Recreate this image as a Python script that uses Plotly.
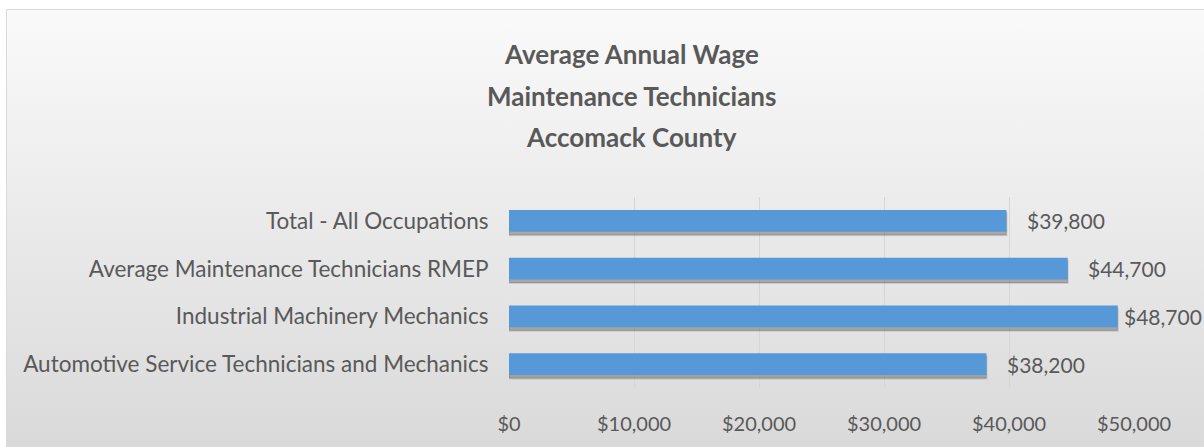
import base64
import plotly.graph_objects as go

categories = [
    "Automotive Service Technicians and Mechanics",
    "Industrial Machinery Mechanics",
    "Average Maintenance Technicians RMEP",
    "Total - All Occupations",
]
wages = [38200, 48700, 44700, 39800]
tick_vals = [0, 10000, 20000, 30000, 40000, 50000]
tick_text = ["$0", "$10,000", "$20,000", "$30,000", "$40,000", "$50,000"]
title_lines = ["Average Annual Wage", "Maintenance Technicians", "Accomack County"]

W, H = 1204, 447
L, R, T, B = 509, 70, 197, 56
pw, ph = W - L - R, H - T - B

FONT = "Lato, 'Open Sans', sans-serif"
GREY = "#595959"
BAR_W = 0.46

svg = (
    '<svg xmlns="http://www.w3.org/2000/svg" width="100" height="100" preserveAspectRatio="none">'
    '<defs><linearGradient id="g" x1="0" y1="0" x2="0" y2="1">'
    '<stop offset="0" stop-color="#fafafa"/><stop offset="1" stop-color="#d9d9d9"/>'
    '</linearGradient></defs>'
    '<rect x="0" y="0" width="100" height="100" fill="url(#g)"/></svg>'
)
src = "data:image/svg+xml;base64," + base64.b64encode(svg.encode()).decode()

fig = go.Figure()
# soft drop shadow under each bar
fig.add_trace(go.Bar(
    y=categories, x=wages, orientation="h",
    width=BAR_W, offset=-BAR_W / 2 - 0.07,
    marker=dict(color="rgba(50,50,50,0.35)", line=dict(width=2, color="rgba(50,50,50,0.15)")),
    hoverinfo="skip",
))
fig.add_trace(go.Bar(
    y=categories, x=wages, orientation="h",
    width=BAR_W, offset=-BAR_W / 2,
    marker=dict(color="#5799d8", line=dict(width=0)),
    hoverinfo="skip",
))

def px_to_paper_x(px):
    return (px - L) / pw

def px_to_paper_y(py):
    return 1 - (py - T) / ph

annotations = []
for cat, v in zip(categories, wages):
    end_px = L + v / 50000 * pw
    shift = 18 if end_px + 18 + 82 < W - 2 else 4
    annotations.append(dict(
        x=v, y=cat, xref="x", yref="y", text="${:,}".format(v),
        showarrow=False, xanchor="left", yanchor="middle", xshift=shift,
        font=dict(family=FONT, size=21, color=GREY),
    ))

for i, line in enumerate(title_lines):
    annotations.append(dict(
        x=px_to_paper_x(631), y=px_to_paper_y(52 + 42 * i), xref="paper", yref="paper",
        text="<b>" + line + "</b>", showarrow=False, xanchor="center", yanchor="middle",
        font=dict(family=FONT, size=26, color=GREY),
    ))

fig.update_layout(
    width=W, height=H,
    margin=dict(l=L, r=R, t=T, b=B, pad=0),
    paper_bgcolor="white",
    plot_bgcolor="rgba(0,0,0,0)",
    barmode="overlay",
    showlegend=False,
    annotations=annotations,
    images=[dict(
        source=src, xref="paper", yref="paper",
        x=px_to_paper_x(6), y=px_to_paper_y(6),
        sizex=(W + 10 - 6) / pw, sizey=(H + 10 - 6) / ph,
        xanchor="left", yanchor="top", sizing="stretch", layer="below",
    )],
    shapes=[dict(
        type="rect", xref="paper", yref="paper",
        x0=px_to_paper_x(6.5), y0=px_to_paper_y(H + 10), x1=px_to_paper_x(W + 10), y1=px_to_paper_y(6.5),
        line=dict(color="#d9d9d9", width=1), fillcolor="rgba(0,0,0,0)", layer="below",
    )],
    xaxis=dict(
        range=[0, 50000], tickvals=tick_vals, ticktext=tick_text,
        showgrid=True, gridcolor="#d6d6d6", gridwidth=1,
        zeroline=False, showline=False,
        ticks="outside", ticklen=18, tickcolor="rgba(0,0,0,0)",
        tickfont=dict(family=FONT, size=20, color=GREY),
        fixedrange=True,
    ),
    yaxis=dict(
        categoryorder="array", categoryarray=categories,
        showgrid=False, zeroline=False, showline=False,
        ticks="outside", ticklen=15, tickcolor="rgba(0,0,0,0)",
        tickfont=dict(family=FONT, size=22.5, color=GREY),
        fixedrange=True,
    ),
)

fig.write_html(
    "out.html",
    config={"displayModeBar": False},
    post_script="document.body.style.margin='0';document.body.style.overflow='hidden';",
)
